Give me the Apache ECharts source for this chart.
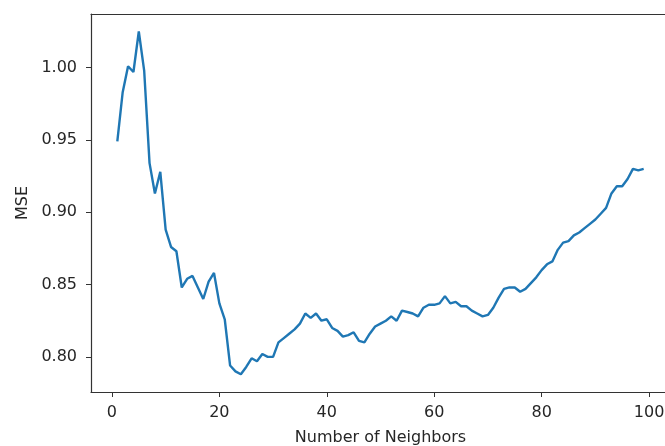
<!DOCTYPE html>
<html>
<head>
<meta charset="utf-8">
<script src="https://cdn.jsdelivr.net/npm/echarts@6/dist/echarts.min.js"></script>
<style>html,body{margin:0;padding:0;background:#fff;}#c{width:665px;height:446px;}</style>
</head>
<body>
<div id="c"></div>
<script>
var neighbors = [];
for (var k = 1; k <= 99; k++) neighbors.push(k);
var mse = [
0.949,0.983,1.001,0.997,1.025,0.998,0.934,0.913,0.928,0.888,
0.876,0.873,0.848,0.854,0.856,0.848,0.840,0.852,0.858,0.837,
0.826,0.794,0.790,0.788,0.793,0.799,0.797,0.802,0.800,0.800,
0.810,0.813,0.816,0.819,0.823,0.830,0.827,0.830,0.825,0.826,
0.820,0.818,0.814,0.815,0.817,0.811,0.810,0.816,0.821,0.823,
0.825,0.828,0.825,0.832,0.831,0.830,0.828,0.834,0.836,0.836,
0.837,0.842,0.837,0.838,0.835,0.835,0.832,0.830,0.828,0.829,
0.834,0.841,0.847,0.848,0.848,0.845,0.847,0.851,0.855,0.860,
0.864,0.866,0.874,0.879,0.880,0.884,0.886,0.889,0.892,0.895,
0.899,0.903,0.913,0.918,0.918,0.923,0.930,0.929,0.930
];
var xTicks = [0, 20, 40, 60, 80, 100];
var yTicks = [0.80, 0.85, 0.90, 0.95, 1.00];

var pts = neighbors.map(function (n, i) { return [n, mse[i]]; });
var txt = '#262626';
var chart = echarts.init(document.getElementById('c'));
chart.setOption({
  animation: false,
  grid: { left: 91, top: 14, bottom: 54, right: -5, show: false, containLabel: false, outerBoundsMode: 'none' },
  xAxis: [{
    type: 'value', min: -3.9, max: 103.9,
    name: 'Number of Neighbors', nameLocation: 'middle', nameGap: 38,
    nameTextStyle: { fontFamily: 'DejaVu Sans', fontSize: 16, color: txt },
    axisLine: { show: true, onZero: false, lineStyle: { color: '#333', width: 1.2 } },
    axisTick: { show: true, length: 5, inside: false, customValues: xTicks, lineStyle: { color: '#333' } },
    axisLabel: { customValues: xTicks, fontFamily: 'DejaVu Sans', fontSize: 16, color: txt, margin: 13, formatter: function (v) { return String(v); } },
    splitLine: { show: false }
  }, {
    type: 'value', min: -3.9, max: 103.9, position: 'top',
    axisLine: { show: true, onZero: false, lineStyle: { color: '#333', width: 1.2 } },
    axisTick: { show: false }, axisLabel: { show: false }, splitLine: { show: false }
  }],
  yAxis: {
    type: 'value', min: 0.7757, max: 1.0371,
    name: 'MSE', nameLocation: 'middle', nameGap: 60,
    nameTextStyle: { fontFamily: 'DejaVu Sans', fontSize: 16, color: txt },
    axisLine: { show: true, onZero: false, lineStyle: { color: '#333', width: 1.2 } },
    axisTick: { show: true, length: 5, inside: false, customValues: yTicks, lineStyle: { color: '#333' } },
    axisLabel: { customValues: yTicks, fontFamily: 'DejaVu Sans', fontSize: 16, color: txt, margin: 14, formatter: function (v) { return v.toFixed(2); } },
    splitLine: { show: false }
  },
  series: [{
    type: 'line', data: pts, showSymbol: false, symbol: 'none', xAxisIndex: 0,
    lineStyle: { color: '#1f77b4', width: 2.4 }
  }]
});
</script>
</body>
</html>
